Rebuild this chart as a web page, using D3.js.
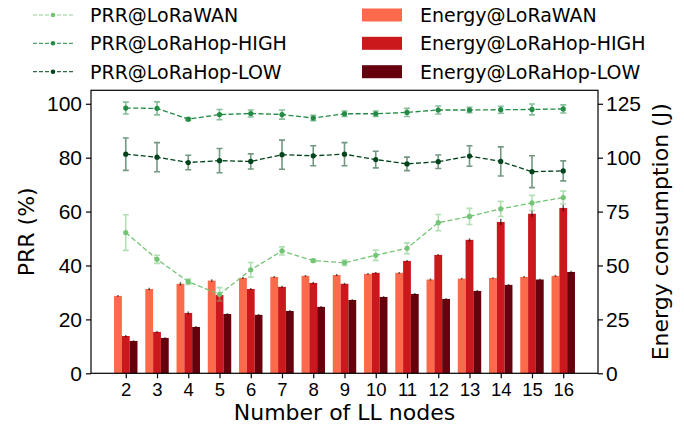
<!DOCTYPE html>
<html>
<head>
<meta charset="utf-8">
<script src="https://cdn.jsdelivr.net/npm/d3@7"></script>
<style>
  body { margin: 0; background: #fff; }
  svg { font-family: "DejaVu Sans", sans-serif; }
  .axis path, .axis line { stroke: #000; stroke-width: 1.2; }
  .axis text { font-size: 21px; fill: #000; }
  .axis.x text { font-size: 18.5px; }
</style>
</head>
<body>
<div id="chart"></div>
<script>
"use strict";

var width = 684;
var height = 428;
var plotLeft = 91, plotRight = 598, plotTop = 90.3, plotBottom = 373.3;

// data
var nodes = [2, 3, 4, 5, 6, 7, 8, 9, 10, 11, 12, 13, 14, 15, 16];

var prrLoRaWAN    = [52.2, 42.3, 34.0, 29.3, 38.4, 45.4, 41.8, 41.0, 43.8, 46.4, 55.9, 58.2, 61.0, 63.2, 65.2];
var prrLoRaWANErr = [6.6, 1.5, 1.0, 2.5, 2.7, 1.5, 0.5, 1.0, 1.9, 2.0, 3.0, 3.0, 2.8, 2.8, 2.4];
var prrHigh       = [98.4, 98.3, 94.3, 96.0, 96.4, 96.0, 94.7, 96.3, 96.3, 96.8, 97.7, 97.7, 97.8, 97.9, 98.1];
var prrHighErr    = [2.2, 2.4, 0.5, 1.9, 1.3, 1.7, 1.0, 1.0, 1.0, 1.5, 1.5, 1.0, 1.3, 2.0, 1.5];
var prrLow        = [81.3, 80.2, 78.2, 78.9, 78.6, 81.1, 80.7, 81.3, 79.3, 77.7, 78.5, 80.6, 78.6, 74.8, 75.1];
var prrLowErr     = [6.0, 5.4, 2.7, 4.5, 2.8, 5.4, 3.7, 4.3, 3.1, 2.5, 2.5, 3.8, 5.4, 5.9, 3.7];

var energyLoRaWAN    = [35.9, 39.1, 41.5, 43.0, 44.2, 44.7, 45.2, 45.6, 46.1, 46.6, 43.5, 43.9, 44.2, 44.7, 45.2];
var energyLoRaWANErr = [0.4, 0.6, 0.8, 0.6, 0.5, 0.4, 0.4, 0.5, 0.4, 0.4, 0.5, 0.4, 0.4, 0.4, 0.5];
var energyHigh       = [17.3, 19.2, 28.0, 36.3, 39.1, 40.1, 41.9, 41.5, 46.6, 52.1, 54.9, 61.9, 70.2, 74.0, 76.7];
var energyHighErr    = [0.5, 0.4, 0.7, 0.5, 0.5, 0.5, 0.5, 0.5, 0.4, 0.4, 0.4, 0.7, 1.4, 1.4, 1.5];
var energyLow        = [15.0, 16.4, 21.5, 27.5, 27.1, 28.9, 30.8, 34.0, 35.4, 36.8, 34.5, 38.2, 41.0, 43.5, 47.0];
var energyLowErr     = [0.3, 0.3, 0.4, 0.4, 0.4, 0.4, 0.4, 0.4, 0.4, 0.4, 0.3, 0.4, 0.4, 0.4, 0.6];

var prrTicks = [0, 20, 40, 60, 80, 100];
var energyTicks = [0, 25, 50, 75, 100, 125];

var lineSeries = [
  {name: "PRR@LoRaWAN", values: prrLoRaWAN, err: prrLoRaWANErr, color: "#74c476"},
  {name: "PRR@LoRaHop-HIGH", values: prrHigh, err: prrHighErr, color: "#238b45"},
  {name: "PRR@LoRaHop-LOW", values: prrLow, err: prrLowErr, color: "#00441b"}
];
var barSeries = [
  {name: "Energy@LoRaWAN", values: energyLoRaWAN, err: energyLoRaWANErr, color: "#fb6a4a"},
  {name: "Energy@LoRaHop-HIGH", values: energyHigh, err: energyHighErr, color: "#cb181d"},
  {name: "Energy@LoRaHop-LOW", values: energyLow, err: energyLowErr, color: "#67000d"}
];

var barWidth = 0.25;

var xScale = d3.scaleLinear()
               .domain([2 - 1.5 * barWidth - 0.7375, 16 + 1.5 * barWidth + 0.7375])
               .range([plotLeft, plotRight]);

var yScale = d3.scaleLinear()
               .domain([0, 105])
               .range([plotBottom, plotTop]);

var y2Scale = d3.scaleLinear()
                .domain([0, 131.25])
                .range([plotBottom, plotTop]);

var svg = d3.select("#chart")
            .append("svg")
            .attr("width", width)
            .attr("height", height);

// bars (energy, right axis)
barSeries.forEach(function(s, k) {
  var off = (k - 1) * barWidth;
  var g = svg.append("g");
  g.selectAll("rect")
   .data(s.values)
   .enter()
   .append("rect")
   .attr("x", function(d, i) { return xScale(nodes[i] + off - barWidth / 2); })
   .attr("y", function(d) { return y2Scale(d); })
   .attr("width", function(d, i) { return xScale(nodes[i] + off + barWidth / 2) - xScale(nodes[i] + off - barWidth / 2); })
   .attr("height", function(d) { return plotBottom - y2Scale(d); })
   .attr("fill", s.color);
  g.selectAll("line")
   .data(s.values)
   .enter()
   .append("line")
   .attr("x1", function(d, i) { return xScale(nodes[i] + off); })
   .attr("x2", function(d, i) { return xScale(nodes[i] + off); })
   .attr("y1", function(d, i) { return y2Scale(d - s.err[i]); })
   .attr("y2", function(d, i) { return y2Scale(d + s.err[i]); })
   .attr("stroke", "#000")
   .attr("stroke-opacity", 0.6)
   .attr("stroke-width", 1.5);
});

// PRR lines with error bars (left axis)
var line = d3.line()
             .x(function(d, i) { return xScale(nodes[i]); })
             .y(function(d) { return yScale(d); });

lineSeries.forEach(function(s) {
  var g = svg.append("g");
  g.selectAll(".err")
   .data(s.values)
   .enter()
   .append("path")
   .attr("class", "err")
   .attr("d", function(d, i) {
     var x = xScale(nodes[i]), y1 = yScale(d - s.err[i]), y2 = yScale(d + s.err[i]);
     return "M" + x + "," + y1 + "V" + y2 +
            "M" + (x - 3) + "," + y1 + "H" + (x + 3) +
            "M" + (x - 3) + "," + y2 + "H" + (x + 3);
   })
   .attr("fill", "none")
   .attr("stroke", s.color)
   .attr("stroke-opacity", 0.55)
   .attr("stroke-width", 1.6);
  g.append("path")
   .datum(s.values)
   .attr("d", line)
   .attr("fill", "none")
   .attr("stroke", s.color)
   .attr("stroke-width", 1.3)
   .attr("stroke-dasharray", "5,2.5");
  g.selectAll("circle")
   .data(s.values)
   .enter()
   .append("circle")
   .attr("cx", function(d, i) { return xScale(nodes[i]); })
   .attr("cy", function(d) { return yScale(d); })
   .attr("r", 2.6)
   .attr("fill", s.color);
});

// axes
var xAxis = d3.axisBottom(xScale).tickValues(nodes).tickFormat(d3.format("d")).tickSize(5).tickPadding(5);
var yAxis = d3.axisLeft(yScale).tickValues(prrTicks).tickSize(5).tickPadding(4);
var y2Axis = d3.axisRight(y2Scale).tickValues(energyTicks).tickSize(5).tickPadding(3);

svg.append("g")
   .attr("class", "axis x")
   .attr("transform", "translate(0," + plotBottom + ")")
   .call(xAxis)
   .call(function(g) { g.select(".domain").remove(); });

svg.append("g")
   .attr("class", "axis")
   .attr("transform", "translate(" + plotLeft + ",0)")
   .call(yAxis)
   .call(function(g) { g.select(".domain").remove(); });

svg.append("g")
   .attr("class", "axis")
   .attr("transform", "translate(" + plotRight + ",0)")
   .call(y2Axis)
   .call(function(g) { g.select(".domain").remove(); });

// frame
svg.append("rect")
   .attr("x", plotLeft)
   .attr("y", plotTop)
   .attr("width", plotRight - plotLeft)
   .attr("height", plotBottom - plotTop)
   .attr("fill", "none")
   .attr("stroke", "#000")
   .attr("stroke-width", 1.2);

// axis titles
svg.append("text")
   .attr("x", (plotLeft + plotRight) / 2)
   .attr("y", 420)
   .attr("text-anchor", "middle")
   .style("font-size", "22px")
   .text("Number of LL nodes");

svg.append("text")
   .attr("transform", "translate(34," + ((plotTop + plotBottom) / 2) + ") rotate(-90)")
   .attr("text-anchor", "middle")
   .style("font-size", "22px")
   .text("PRR (%)");

svg.append("text")
   .attr("transform", "translate(668," + ((plotTop + plotBottom) / 2) + ") rotate(-90)")
   .attr("text-anchor", "middle")
   .style("font-size", "22px")
   .text("Energy consumption (J)");

// legend
var rowY = [15, 43.3, 71.7];

lineSeries.forEach(function(s, k) {
  var g = svg.append("g").attr("transform", "translate(0," + rowY[k] + ")");
  g.append("line")
   .attr("x1", 33).attr("x2", 73)
   .attr("stroke", s.color)
   .attr("stroke-opacity", 0.8)
   .attr("stroke-width", 1.2)
   .attr("stroke-dasharray", "4,2");
  g.append("circle").attr("cx", 53).attr("r", 2.3).attr("fill", s.color);
  g.append("text")
   .attr("x", 90).attr("y", 7)
   .style("font-size", "19px")
   .text(s.name);
});

barSeries.forEach(function(s, k) {
  var g = svg.append("g").attr("transform", "translate(0," + rowY[k] + ")");
  g.append("rect")
   .attr("x", 362).attr("y", -6.5)
   .attr("width", 40).attr("height", 13)
   .attr("fill", s.color);
  g.append("text")
   .attr("x", 420).attr("y", 7)
   .style("font-size", "19px")
   .text(s.name);
});
</script>
</body>
</html>
